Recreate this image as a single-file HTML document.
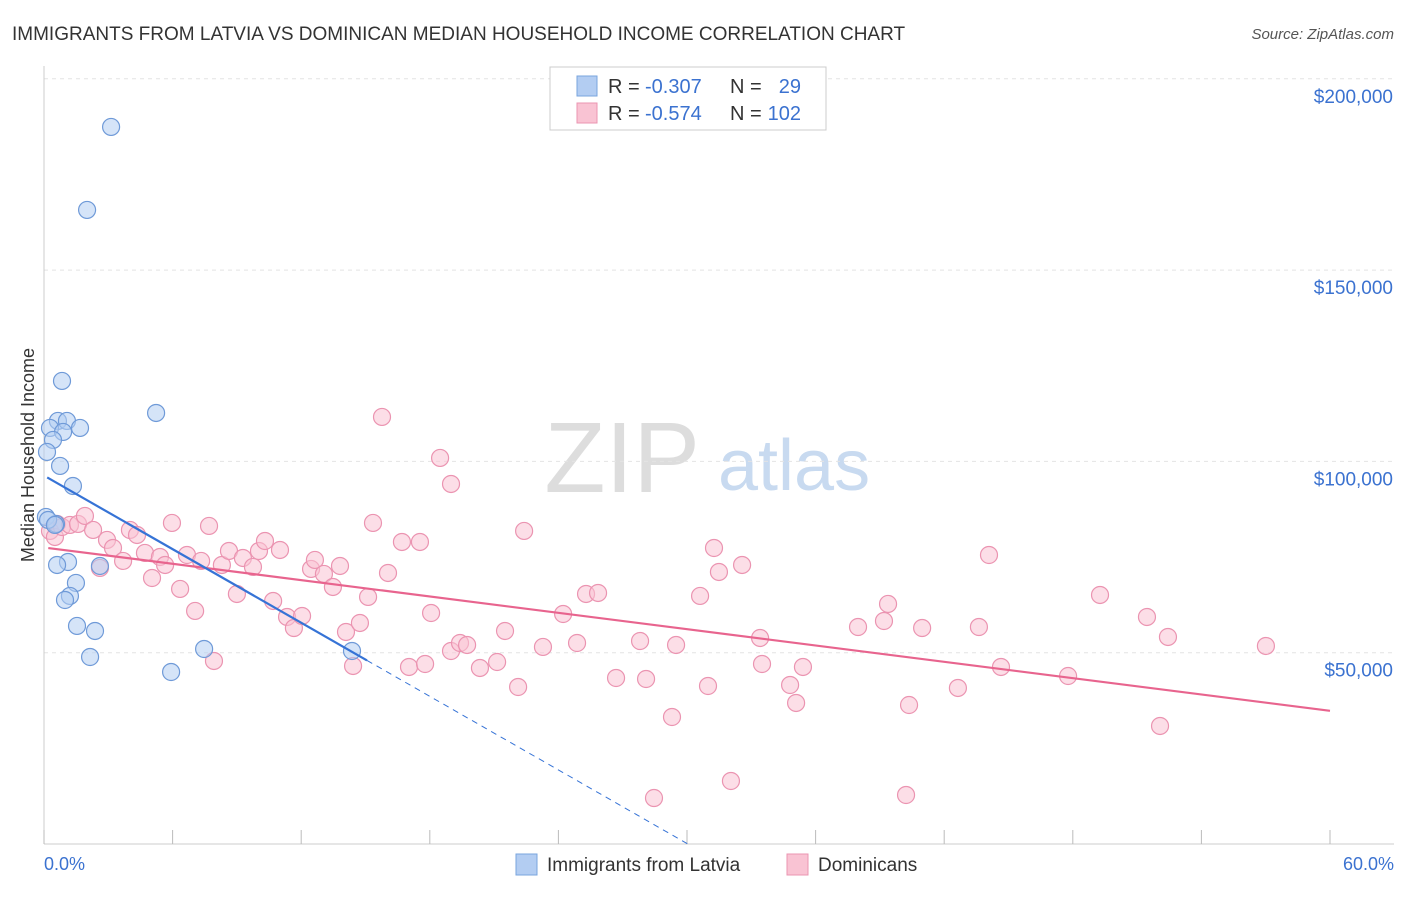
<!DOCTYPE html>
<html><head><meta charset="utf-8"><style>
body{margin:0;background:#fff;font-family:"Liberation Sans",sans-serif;}
svg text{font-family:"Liberation Sans",sans-serif;}
</style></head><body>
<svg id="c" width="1406" height="892" xmlns="http://www.w3.org/2000/svg">
<text x="12" y="40" font-size="19" fill="#333">IMMIGRANTS FROM LATVIA VS DOMINICAN MEDIAN HOUSEHOLD INCOME CORRELATION CHART</text>
<text x="1394" y="39" font-size="15" fill="#555" text-anchor="end" font-style="italic">Source: ZipAtlas.com</text>
<text x="700" y="492" font-size="100" fill="#ddd" text-anchor="end" font-family="Liberation Serif">ZIP</text>
<text x="718" y="490" font-size="72" fill="#c8daf0">atlas</text>
<text transform="translate(34,455) rotate(-90)" font-size="18" fill="#333" text-anchor="middle">Median Household Income</text>
<g id="grid"></g><g id="marks"></g>
<g>
<rect x="550" y="67" width="276" height="63" fill="#fff" stroke="#ccc"/>
<rect x="577" y="76" width="20" height="20" fill="#b3cdf2" stroke="#7aa5de"/>
<rect x="577" y="103" width="20" height="20" fill="#f9c3d3" stroke="#eb94b1"/>
<text x="608" y="93" font-size="20" fill="#333">R =</text>
<text x="645" y="93" font-size="20" fill="#3b72d0">-0.307</text>
<text x="730" y="93" font-size="20" fill="#333">N =</text>
<text x="801" y="93" font-size="20" fill="#3b72d0" text-anchor="end">29</text>
<text x="608" y="120" font-size="20" fill="#333">R =</text>
<text x="645" y="120" font-size="20" fill="#3b72d0">-0.574</text>
<text x="730" y="120" font-size="20" fill="#333">N =</text>
<text x="801" y="120" font-size="20" fill="#3b72d0" text-anchor="end">102</text>
</g>
<g>
<rect x="516" y="854" width="21" height="21" fill="#b3cdf2" stroke="#7aa5de"/>
<text x="547" y="871" font-size="19" fill="#333">Immigrants from Latvia</text>
<rect x="787" y="854" width="21" height="21" fill="#f9c3d3" stroke="#eb94b1"/>
<text x="818" y="871" font-size="19" fill="#333">Dominicans</text>
</g>
<text x="44" y="870" font-size="18" fill="#3b72d0">0.0%</text>
<text x="1394" y="870" font-size="18" fill="#3b72d0" text-anchor="end">60.0%</text>
</svg>
<script>
const yTicks=[50000,100000,150000,200000];
const yTickLabels=["$50,000","$100,000","$150,000","$200,000"];
const latviaX=[3.13,2.01,0.84,5.23,0.65,1.07,1.68,0.28,0.89,0.42,0.14,0.75,1.35,0.09,0.56,1.12,0.61,2.61,1.49,1.21,0.98,1.54,2.38,2.15,7.47,14.37,5.93,0.19,0.51];
const latviaY=[187420,165730,121030,112660,110570,110570,108740,108740,107700,105610,102470,98810,93580,85480,83650,73710,72930,72670,68230,64830,63780,56990,55680,48880,50970,50450,44960,84690,83390];
const domX=[0.61,0.28,0.51,0.84,1.21,1.59,1.91,2.29,2.61,2.94,3.22,3.69,4.01,4.34,4.71,5.04,5.41,5.65,5.97,6.35,6.67,7.05,7.33,7.70,7.93,8.30,8.63,9.00,9.28,9.75,10.03,10.31,10.69,11.01,11.34,11.66,12.04,12.46,12.64,13.06,13.48,13.81,14.09,14.42,14.74,15.12,15.35,15.77,16.05,16.70,17.03,17.54,17.78,18.06,18.48,18.99,18.99,19.41,19.74,20.34,21.14,21.51,22.12,22.40,23.28,24.22,24.87,25.29,25.85,26.69,27.81,28.09,28.46,29.30,29.49,30.61,30.98,31.26,31.49,32.05,32.57,33.41,33.50,34.81,35.09,35.41,37.98,39.19,39.38,40.22,40.36,40.97,42.64,43.62,44.09,44.65,47.78,49.27,51.46,52.07,52.44,57.01];
const domY=[83650,81820,80250,82860,83390,83650,85740,82080,72150,79470,77370,73980,82080,80770,76070,69530,75020,72930,83910,66660,75540,60910,73980,83130,47840,72930,76590,65350,74760,72410,76590,79200,63520,76850,59340,56460,59600,71890,74240,70580,67180,72670,55420,46530,57770,64570,83910,111620,70840,78940,46270,78940,47050,60380,100900,94100,50450,52540,52020,46010,47570,55680,41040,81820,51500,60120,52540,65350,65610,43390,53060,43130,12020,33200,52020,64830,41300,77370,71100,16470,72930,53850,47050,41560,36860,46270,56720,58290,62740,12810,36330,56460,40780,56720,75540,46270,43910,65090,59340,30850,54110,51760];
const NS='http://www.w3.org/2000/svg';
const X0=44,X1=1330,Y0=844,PY=191.3/50000;
const xs=v=>X0+v/60*(X1-X0), ys=v=>Y0-v*PY;
function mk(t,a,p){const e=document.createElementNS(NS,t);for(const k in a)e.setAttribute(k,a[k]);p.appendChild(e);return e;}
const grid=document.getElementById('grid'),marks=document.getElementById('marks');
yTicks.forEach((t,i)=>{
 const l=mk('line',{x1:X0,x2:1394,y1:ys(t),y2:ys(t),stroke:'#e4e4e4','stroke-dasharray':'4,4'},grid);
 
 
 const tx=mk('text',{x:1393,y:ys(t)+24,'font-size':19,fill:'#3b72d0','text-anchor':'end'},grid);
 tx.textContent=yTickLabels[i];
 
 
});
mk('line',{x1:X0,x2:X0,y1:66,y2:Y0,stroke:'#ccc'},grid);
mk('line',{x1:X0,x2:1394,y1:Y0,y2:Y0,stroke:'#ccc'},grid);
for(let i=0;i<=10;i++){const t=mk('line',{x1:xs(i*6),x2:xs(i*6),y1:Y0-14,y2:Y0,stroke:'#bbb'},grid);
 
 }
function reg(X,Y){const n=Math.min(X.length,Y.length);let mx=0,my=0;for(let i=0;i<n;i++){mx+=X[i];my+=Y[i];}mx/=n;my/=n;let sxy=0,sxx=0;for(let i=0;i<n;i++){sxy+=(X[i]-mx)*(Y[i]-my);sxx+=(X[i]-mx)**2;}const b=sxy/sxx;return[my-b*mx,b];}
function pts(X,Y,fill,stroke,name){const n=Math.min(X.length,Y.length);for(let i=0;i<n;i++){const c=mk('circle',{cx:xs(X[i]),cy:ys(Y[i]),r:8.5,fill:fill,'fill-opacity':0.55,stroke:stroke,'stroke-width':1.2},marks);
 
 }}
pts(domX,domY,'#f9c3d3','#eb94b1','dominican-point');
pts(latviaX,latviaY,'#b3cdf2','#6f9ad8','latvia-point');
const [da,db]=reg(domX,domY);
const pl=mk('line',{x1:xs(0.2),y1:ys(da+db*0.2),x2:xs(60),y2:ys(da+db*60),stroke:'#e8648e','stroke-width':2.2},marks);


const [la,lb]=reg(latviaX,latviaY);
const lmax=Math.max(...latviaX)+0.7, xz=-la/lb;
const bl=mk('line',{x1:xs(0.15),y1:ys(la+lb*0.15),x2:xs(lmax),y2:ys(la+lb*lmax),stroke:'#3673d6','stroke-width':2.2},marks);


const bd=mk('line',{x1:xs(lmax),y1:ys(la+lb*lmax),x2:xs(xz),y2:ys(0),stroke:'#3673d6','stroke-width':1,'stroke-dasharray':'6,5'},marks);


</script>
</body></html>
